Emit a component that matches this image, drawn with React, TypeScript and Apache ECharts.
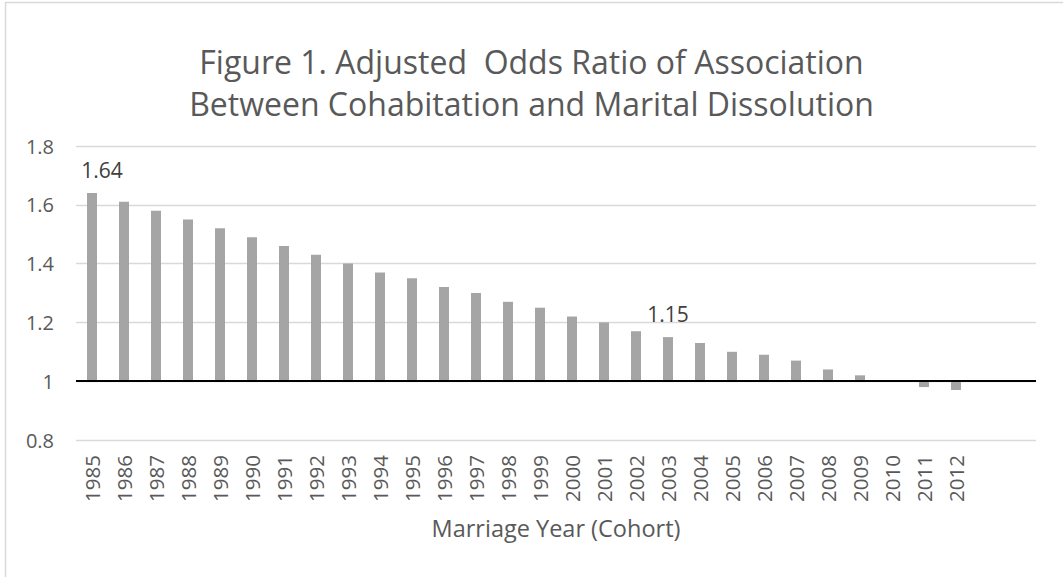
import React, { useEffect, useRef } from "react";
import * as echarts from "echarts";

const years = [
  "1985", "1986", "1987", "1988", "1989", "1990", "1991", "1992", "1993", "1994",
  "1995", "1996", "1997", "1998", "1999", "2000", "2001", "2002", "2003", "2004",
  "2005", "2006", "2007", "2008", "2009", "2010", "2011", "2012",
];
const paddingCategories = ["", ""];
const oddsRatio = [
  1.64, 1.61, 1.58, 1.55, 1.52, 1.49, 1.46, 1.43, 1.4, 1.37,
  1.35, 1.32, 1.3, 1.27, 1.25, 1.22, 1.2, 1.17, 1.15, 1.13,
  1.1, 1.09, 1.07, 1.04, 1.02, 1.0, 0.98, 0.97,
];
const labeledYears = ["1985", "2003"];
const baselineValue = 1;
const yTicks = { min: 0.8, max: 1.8, interval: 0.2 };

const titleText =
  "Figure 1. Adjusted  Odds Ratio of Association\nBetween Cohabitation and Marital Dissolution";
const xAxisName = "Marriage Year (Cohort)";

const FONT = '"Open Sans", Lato, sans-serif';

export default function App() {
  const ref = useRef<HTMLDivElement>(null);

  useEffect(() => {
    document.body.style.margin = "0";
    if (!ref.current) return;
    const chart = echarts.init(ref.current, null, { renderer: "svg" });

    const categories = [...years, ...paddingCategories];
    const baseData = oddsRatio.map((v) => Math.min(v, baselineValue));
    const deltaData = oddsRatio.map((v, i) => {
      const d = Math.abs(v - baselineValue);
      if (labeledYears.includes(years[i])) {
        return {
          value: d,
          label: {
            show: true,
            offset: i === 0 ? [10, 0] : [0, 0],
          },
        };
      }
      return d;
    });

    chart.setOption({
      animation: false,
      title: {
        text: titleText,
        left: "center",
        top: 35,
        textStyle: {
          fontFamily: FONT,
          fontSize: 32,
          fontWeight: "normal",
          color: "#595959",
          lineHeight: 42,
        },
      },
      graphic: [
        {
          type: "rect",
          shape: { x: 5.5, y: 2.5, width: 1200, height: 700 },
          style: { fill: "none", stroke: "#d9d9d9", lineWidth: 1.5 },
          silent: true,
        },
      ],
      grid: { left: 76, right: 27, top: 146, bottom: 137 },
      xAxis: {
        type: "category",
        data: categories,
        axisLine: { show: false },
        axisTick: { show: false },
        axisLabel: {
          rotate: 90,
          interval: 0,
          margin: 15,
          fontFamily: FONT,
          fontSize: 20.5,
          color: "#595959",
        },
        name: xAxisName,
        nameLocation: "middle",
        nameGap: 76,
        nameTextStyle: { fontFamily: FONT, fontSize: 23.5, color: "#595959" },
      },
      yAxis: {
        type: "value",
        min: yTicks.min,
        max: yTicks.max,
        interval: yTicks.interval,
        axisLine: { show: false },
        axisTick: { show: false },
        axisLabel: {
          margin: 22,
          fontFamily: FONT,
          fontSize: 20,
          color: "#595959",
          formatter: (v: number) => String(Number(v.toFixed(2))),
        },
        splitLine: { lineStyle: { color: "#d9d9d9", width: 1.3 } },
      },
      series: [
        {
          type: "bar",
          stack: "or",
          data: baseData,
          barWidth: 10,
          itemStyle: { color: "transparent" },
          silent: true,
          markLine: {
            silent: true,
            symbol: ["none", "none"],
            label: { show: false },
            lineStyle: { color: "#000", width: 2, type: "solid" },
            data: [{ yAxis: baselineValue }],
          },
        },
        {
          type: "bar",
          stack: "or",
          data: deltaData,
          barWidth: 10,
          itemStyle: { color: "#a5a5a5" },
          label: {
            show: false,
            position: "top",
            distance: 13,
            fontFamily: FONT,
            fontSize: 21,
            color: "#404040",
            formatter: (p: any) => String(oddsRatio[p.dataIndex]),
          },
        },
      ],
    });

    return () => chart.dispose();
  }, []);

  return <div ref={ref} style={{ width: 1063, height: 577 }} />;
}
